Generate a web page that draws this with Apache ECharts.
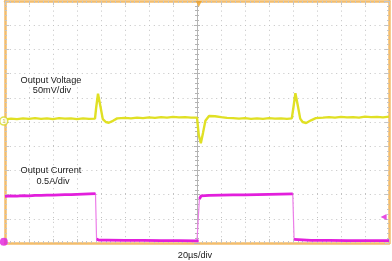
<!DOCTYPE html>
<html>
<head>
<meta charset="utf-8">
<script src="https://cdn.jsdelivr.net/npm/echarts@6/dist/echarts.min.js"></script>
<style>
html,body{margin:0;padding:0;background:#fff;}
#c{width:392px;height:261px;}
</style>
</head>
<body>
<div id="c"></div>
<script>
// time in µs relative to the centre graticule line (20 µs per division), vertical in divisions
var timeRange = [-160, 160];
var divRange = [0, 10];
var voltageTrace = [
  [-160, 5.11], [-155, 5.14], [-150, 5.12], [-145, 5.15], [-140, 5.13], [-135, 5.16], [-130, 5.13],
  [-125, 5.15], [-120, 5.12], [-115, 5.16], [-110, 5.14], [-105, 5.15], [-100, 5.12], [-95, 5.15],
  [-90, 5.13], [-85, 5.14], [-84, 5.6], [-82.5, 6.17], [-80.5, 5.65], [-78.5, 5.12], [-76, 5.0],
  [-73.5, 4.97], [-70, 5.05], [-66.5, 5.15], [-60, 5.17], [-55, 5.15], [-50, 5.18], [-45, 5.16],
  [-40, 5.19], [-35, 5.17], [-30, 5.2], [-25, 5.18], [-20, 5.21], [-15, 5.19], [-10, 5.2], [-5, 5.18],
  [0, 5.18], [1.5, 4.45], [3.2, 4.12], [5, 4.55], [7, 5.05], [10, 5.25], [15, 5.24], [20, 5.2],
  [25, 5.17], [30, 5.16], [35, 5.14], [40, 5.16], [45, 5.13], [50, 5.15], [55, 5.13], [60, 5.16],
  [65, 5.14], [70, 5.15], [75, 5.13], [79, 5.15], [80.5, 5.65], [82, 6.19], [84, 5.68], [86, 5.14],
  [88, 5.0], [91, 4.96], [95, 5.07], [99, 5.16], [105, 5.18], [110, 5.2], [115, 5.18], [120, 5.21],
  [125, 5.19], [130, 5.2], [135, 5.18], [140, 5.22], [145, 5.2], [150, 5.21], [155, 5.19], [160, 5.22]
];
var currentTrace = [
  [-160, 1.93], [-155, 1.95], [-150, 1.94], [-145, 1.96], [-140, 1.95], [-135, 1.97], [-130, 1.97],
  [-125, 1.98], [-120, 1.98], [-115, 1.99], [-110, 2.0], [-105, 2.0], [-100, 2.01], [-95, 2.02],
  [-90, 2.03], [-84.6, 2.04], [-83.7, 0.16], [-82, 0.12], [-75, 0.12], [-60, 0.11], [-45, 0.11],
  [-30, 0.1], [-15, 0.1], [0, 0.09], [1.4, 0.09], [2.0, 1.82], [3.5, 1.95], [10, 1.97], [20, 1.98],
  [30, 1.99], [40, 1.99], [50, 2.0], [60, 2.01], [70, 2.02], [79.8, 2.03], [80.9, 0.15], [82.5, 0.12],
  [95, 0.11], [110, 0.11], [125, 0.1], [140, 0.1], [160, 0.1]
];
var ch1Marker = [[-161, 5.04]];
var ch2Marker = [[-161, 0.05]];
var triggerLevel = [[155.5, 1.07]];
var triggerPos = [[1.5, 9.88]];
var labels = {
  voltName: 'Output Voltage', voltScale: '50mV/div',
  currName: 'Output Current', currScale: '0.5A/div',
  timeScale: '20µs/div'
};

// the flat parts of the current trace are drawn thick, the fast edges thin
var currentFlats = [];
for (var i = 0; i < currentTrace.length; i++) {
  if (i > 0 && Math.abs(currentTrace[i][1] - currentTrace[i - 1][1]) > 1) currentFlats.push('-');
  currentFlats.push(currentTrace[i]);
}

var chart = echarts.init(document.getElementById('c'));
var border = '#f3bd6c';
var dotGrid = {show: true, lineStyle: {color: '#c2c2c2', width: 1, type: [1, 3.8]}};
var tickStyle = {color: '#c4c4c4', width: 1};
function xAx(pos, split) {
  return {
    type: 'value', min: timeRange[0], max: timeRange[1], interval: 20, position: pos,
    axisLine: {show: true, onZero: false, lineStyle: {color: border, width: 2.5}},
    axisTick: {show: true, inside: true, length: 4, lineStyle: tickStyle},
    minorTick: {show: true, splitNumber: 5, length: 2, lineStyle: tickStyle},
    axisLabel: {show: false}, splitLine: split ? dotGrid : {show: false}
  };
}
function yAx(pos, split) {
  return {
    type: 'value', min: divRange[0], max: divRange[1], interval: 1, position: pos,
    axisLine: {show: true, onZero: false, lineStyle: {color: border, width: 2.5}},
    axisTick: {show: true, inside: true, length: 4, lineStyle: tickStyle},
    minorTick: {show: true, splitNumber: 5, length: 2, lineStyle: tickStyle},
    axisLabel: {show: false}, splitLine: split ? dotGrid : {show: false}
  };
}
function centreAx(inside) {
  return {
    type: 'value', min: divRange[0], max: divRange[1], interval: 1, position: 'left',
    axisLine: {show: true, onZero: true, lineStyle: {color: '#b4b4b4', width: 1}},
    axisTick: {show: true, inside: inside, length: 3, lineStyle: {color: '#b4b4b4'}},
    minorTick: {show: true, splitNumber: 5, length: 2, lineStyle: {color: '#b4b4b4'}},
    axisLabel: {show: false}, splitLine: {show: false}
  };
}
var txt = {fontFamily: 'Liberation Sans, Arial, sans-serif', fontSize: 9.2, fill: '#1a1a1a', align: 'center', verticalAlign: 'middle'};
function t(x, y, s) { return {type: 'text', x: x, y: y, z: 100, style: Object.assign({text: s}, txt)}; }

chart.setOption({
  animation: false,
  backgroundColor: '#ffffff',
  grid: {left: 5, right: 3, top: 1, bottom: 18},
  xAxis: [xAx('bottom', true), xAx('top', false)],
  yAxis: [yAx('left', true), yAx('right', false), centreAx(false), centreAx(true)],
  series: [
    {type: 'line', data: currentTrace, showSymbol: false, z: 3,
     lineStyle: {color: '#ec7ee8', width: 1.2}},
    {type: 'line', data: currentFlats, showSymbol: false, connectNulls: false, z: 3,
     lineStyle: {color: '#e21fdc', width: 2.8}},
    {type: 'line', data: voltageTrace, showSymbol: false, z: 4,
     lineStyle: {color: '#e0e024', width: 2.4}},
    {type: 'scatter', data: ch1Marker, symbol: 'circle', symbolSize: 8, clip: false, z: 6,
     itemStyle: {color: '#ffffff', borderColor: '#d8d820', borderWidth: 1.5},
     label: {show: true, formatter: '1', fontSize: 6, color: '#b8b800', position: 'inside'}},
    {type: 'scatter', data: ch2Marker, symbol: 'circle', symbolSize: 8, clip: false, z: 6,
     itemStyle: {color: '#e21fdc'}},
    {type: 'scatter', data: triggerLevel, symbol: 'triangle', symbolRotate: 90, symbolSize: 6, clip: false, z: 6,
     itemStyle: {color: '#e21fdc'}},
    {type: 'scatter', data: triggerPos, symbol: 'triangle', symbolRotate: 180, symbolSize: 6, clip: false, z: 6,
     itemStyle: {color: '#f0a020'}}
  ],
  graphic: [
    t(51, 80, labels.voltName), t(52, 90.5, labels.voltScale),
    t(51, 170, labels.currName), t(53, 181.5, labels.currScale),
    t(195, 255, labels.timeScale)
  ]
});
</script>
</body>
</html>
